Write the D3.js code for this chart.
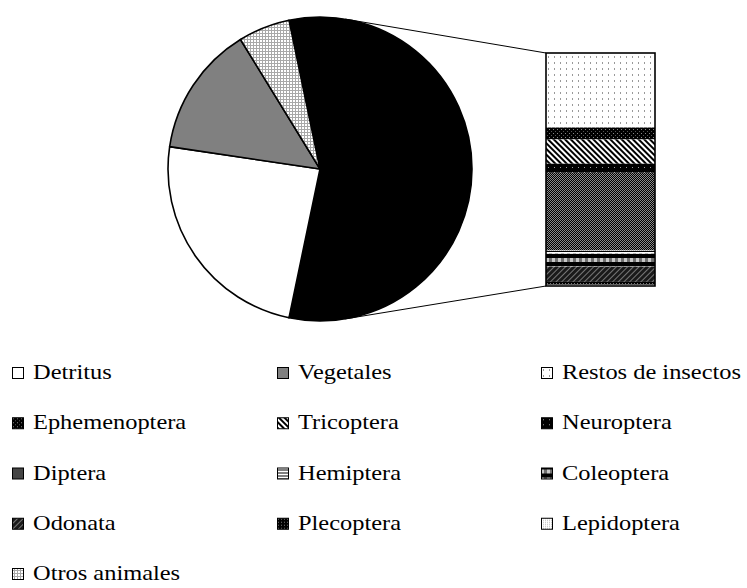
<!DOCTYPE html>
<html lang="es">
<head>
<meta charset="UTF-8">
<title>Dieta</title>
<script src="https://d3js.org/d3.v7.min.js"></script>
<style>
  body { margin: 0; background: #fff; }
  svg text { font-family: "Liberation Serif", "Times New Roman", serif; }
</style>
</head>
<body>
<svg width="747" height="588"></svg>
<script>
// main pie categories (plus the aggregated "other" slice that feeds the bar)
const pieNames = ["Detritus", "Vegetales", "Otros animales"];
const pieValues = [24.1, 13.9, 5.5];

// secondary bar categories, top to bottom
const barNames = ["Restos de insectos", "Ephemenoptera", "Tricoptera", "Neuroptera",
                  "Diptera", "Hemiptera", "Coleoptera", "Odonata", "Plecoptera", "Lepidoptera"];
const barValues = [18.1, 2.9, 5.9, 2.2, 18.9, 0.7, 3.2, 3.7, 0.7, 0.3];

// legend order
const legendNames = ["Detritus", "Vegetales", "Restos de insectos",
                     "Ephemenoptera", "Tricoptera", "Neuroptera",
                     "Diptera", "Hemiptera", "Coleoptera",
                     "Odonata", "Plecoptera", "Lepidoptera",
                     "Otros animales"];

const svg = d3.select("svg");
const defs = svg.append("defs");

// pattern helpers
function pat(id, w, h, bg, transform) {
    const p = defs.append("pattern")
        .attr("id", id)
        .attr("patternUnits", "userSpaceOnUse")
        .attr("width", w).attr("height", h);
    if (transform) p.attr("patternTransform", transform);
    p.append("rect").attr("width", w).attr("height", h).attr("fill", bg);
    return p;
}
function dot(p, x, y, w, h, c) {
    p.append("rect").attr("x", x).attr("y", y).attr("width", w).attr("height", h).attr("fill", c);
}

let p;
p = pat("p-otros", 3, 3, "#fff");
dot(p, 2, 0, 1, 3, "#a8a8a8"); dot(p, 0, 2, 3, 1, "#a8a8a8");

p = pat("p-restos", 6, 6, "#fff");
dot(p, 2, 2, 1, 2, "#999");

p = pat("p-ephem", 4, 4, "#000");
dot(p, 1, 1, 1, 1, "#888"); dot(p, 3, 3, 1, 1, "#555");

p = pat("p-tric", 4, 4, "#fff", "rotate(-45)");
dot(p, 0, 0, 2, 4, "#000");

p = pat("p-neuro", 6, 5, "#000");
dot(p, 2, 2, 1, 1, "#999");

p = pat("p-dipt", 2, 2, "#000");
dot(p, 0, 0, 1, 1, "#8a8a8a"); dot(p, 1, 1, 1, 1, "#8a8a8a");

p = pat("p-hemi", 4, 3, "#fff");
dot(p, 0, 2, 4, 1, "#000");

p = pat("p-coleo", 6, 8, "#000");
dot(p, 0, 2, 3, 4, "#c8c8c8"); dot(p, 3, 2, 3, 4, "#707070");

p = pat("p-odon", 4, 4, "#1a1a1a", "rotate(45)");
dot(p, 0, 0, 1, 4, "#777");

p = pat("p-pleco", 3, 3, "#000");
dot(p, 1, 1, 1, 1, "#777");

p = pat("p-lepi", 2, 2, "#fff");
dot(p, 0, 0, 1, 1, "#bbb");

const fills = {
    "Detritus": "#fff",
    "Vegetales": "#808080",
    "Otros animales": "url(#p-otros)",
    "Restos de insectos": "url(#p-restos)",
    "Ephemenoptera": "url(#p-ephem)",
    "Tricoptera": "url(#p-tric)",
    "Neuroptera": "url(#p-neuro)",
    "Diptera": "url(#p-dipt)",
    "Hemiptera": "url(#p-hemi)",
    "Coleoptera": "url(#p-coleo)",
    "Odonata": "url(#p-odon)",
    "Plecoptera": "url(#p-pleco)",
    "Lepidoptera": "url(#p-lepi)",
    "Otro": "#000"
};

// ---- main pie ----
const cx = 320, cy = 169, r = 152;
const otherTotal = d3.sum(barValues);
const total = otherTotal + d3.sum(pieValues);
const otherAngle = otherTotal / total * 2 * Math.PI;
const start = Math.PI / 2 - otherAngle / 2;

const pieData = [{ name: "Otro", value: otherTotal }]
    .concat(pieNames.map((n, i) => ({ name: n, value: pieValues[i] })));

const pie = d3.pie().sort(null).value(d => d.value)
    .startAngle(start).endAngle(start + 2 * Math.PI);
const arc = d3.arc().innerRadius(0).outerRadius(r);

// ---- secondary bar ----
const barX0 = 546, barX1 = 655, barTop = 53, barBottom = 286;
const y = d3.scaleLinear().domain([0, otherTotal]).range([barTop, barBottom]);
const cum = d3.cumsum(barValues);

// connector lines, tangent to the circle
function tangent(px, py, upper) {
    const dx = px - cx, dy = py - cy;
    const d = Math.hypot(dx, dy);
    const a = Math.acos(r / d);
    const base = Math.atan2(dy, dx);
    const t = base + (upper ? -a : a);
    return [cx + r * Math.cos(t), cy + r * Math.sin(t)];
}
const tTop = tangent(barX0, y(0), true);
const tBot = tangent(barX0, y(otherTotal), false);
svg.append("g").attr("stroke", "#000").attr("stroke-width", 1)
    .selectAll("line")
    .data([[tTop, [barX0, y(0)]], [tBot, [barX0, y(otherTotal)]]])
    .join("line")
    .attr("x1", d => d[0][0]).attr("y1", d => d[0][1])
    .attr("x2", d => d[1][0]).attr("y2", d => d[1][1]);

svg.append("g")
    .attr("transform", `translate(${cx},${cy})`)
    .selectAll("path")
    .data(pie(pieData))
    .join("path")
    .attr("d", arc)
    .attr("fill", d => fills[d.data.name])
    .attr("stroke", "#000")
    .attr("stroke-width", 1.6)
    .attr("stroke-linejoin", "round");

svg.append("g")
    .selectAll("rect")
    .data(barNames)
    .join("rect")
    .attr("x", barX0)
    .attr("width", barX1 - barX0)
    .attr("y", (d, i) => y(cum[i] - barValues[i]))
    .attr("height", (d, i) => y(cum[i]) - y(cum[i] - barValues[i]))
    .attr("fill", d => fills[d]);

svg.append("rect")
    .attr("x", barX0).attr("y", barTop)
    .attr("width", barX1 - barX0).attr("height", barBottom - barTop)
    .attr("fill", "none").attr("stroke", "#000").attr("stroke-width", 1.6);

// ---- legend ----
const colX = [12, 277, 541];
const rowY = 367, rowStep = 50.25, box = 11;
const leg = svg.append("g")
    .selectAll("g")
    .data(legendNames)
    .join("g")
    .attr("transform", (d, i) => `translate(${colX[i % 3]},${rowY + Math.floor(i / 3) * rowStep})`);

leg.append("rect")
    .attr("x", 0.5).attr("y", 0.5)
    .attr("width", box).attr("height", box)
    .attr("fill", d => fills[d])
    .attr("stroke", "#000").attr("stroke-width", 1);

// text in the reference is slightly wider than it is tall
leg.append("text")
    .attr("transform", "translate(21,12) scale(1.11,1)")
    .attr("font-family", "Liberation Serif, Times New Roman, serif")
    .attr("font-size", 22)
    .attr("fill", "#000")
    .text(d => d);
</script>
</body>
</html>
